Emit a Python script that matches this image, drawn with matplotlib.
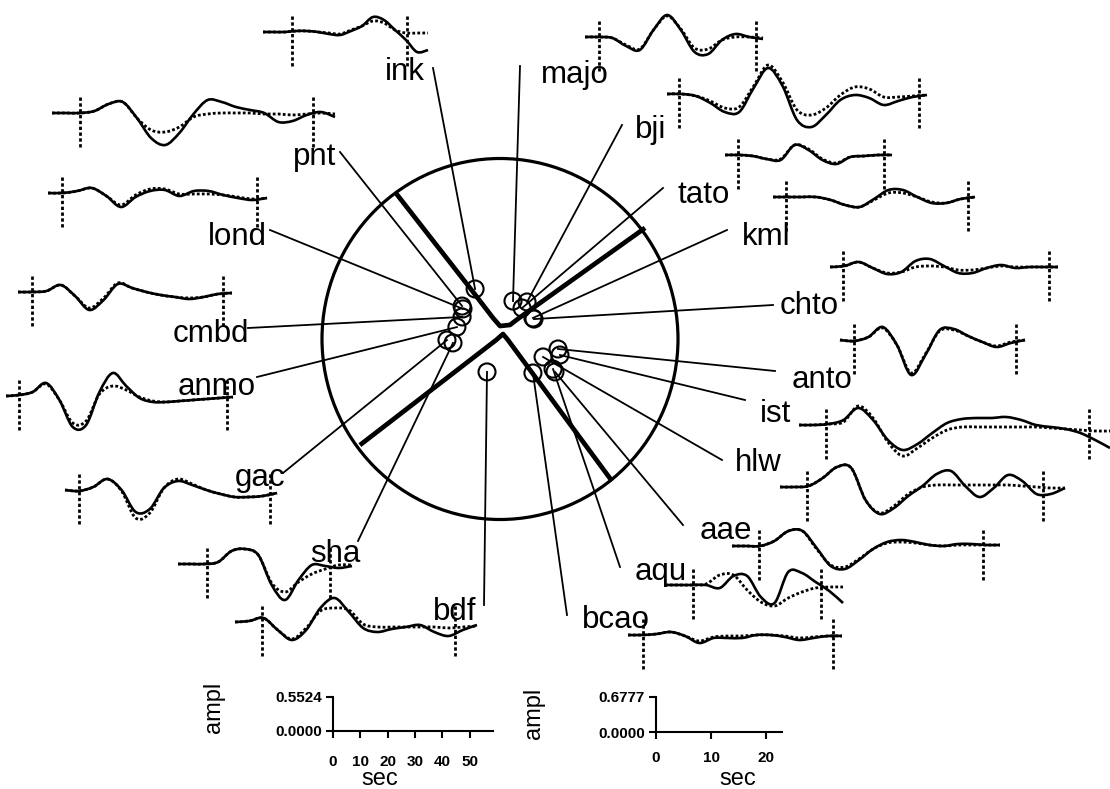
import matplotlib
matplotlib.use("Agg")
import matplotlib.pyplot as plt
from matplotlib.patches import Ellipse, Circle, PathPatch
from matplotlib.path import Path
from matplotlib import font_manager
import numpy as np

# ---------------- data ----------------
STATIONS = ["ink", "pnt", "lond", "cmbd", "anmo", "gac", "sha", "bdf", "majo", "bji",
            "tato", "kml", "chto", "anto", "ist", "hlw", "aae", "aqu", "bcao"]

# station positions on the focal sphere projection (units of ball radius, +y up)
STA_PX = [-0.140, -0.213, -0.208, -0.213, -0.242, -0.298, -0.264, -0.073, 0.073, 0.152,
          0.124, 0.185, 0.191, 0.326, 0.337, 0.242, 0.309, 0.298, 0.185]
STA_PY = [0.281, 0.185, 0.169, 0.124, 0.067, -0.006, -0.022, -0.185, 0.213, 0.208,
          0.174, 0.118, 0.112, -0.056, -0.090, -0.101, -0.185, -0.169, -0.191]

# nodal plane traces (units of ball radius, +y up)
NODAL1_X = [-0.590, -0.169, -0.039, 0.000, 0.056, 0.107, 0.815]
NODAL1_Y = [0.826, 0.287, 0.118, 0.073, 0.079, 0.118, 0.624]
NODAL2_X = [-0.787, -0.022, 0.017, 0.045, 0.629]
NODAL2_Y = [-0.596, -0.006, 0.028, -0.006, -0.798]

# observed (solid) and synthetic (dotted) waveform amplitudes, evenly sampled
OBS_INK = [0, 0, 0, 1, 1, 0, -2, -3, 1, 6, 15, 12, 2, -8, -20, -18]
SYN_INK = [0, 0, 0, 1, 1, 0, -1, -2, 2, 6, 11, 9, 2, -1, -1, -1]
OBS_PNT = [0, 0, 0, 2, 9, 11, -5, -25, -32, -20, -1, 13, 11, 6, 3, 0, -9, -8, -2, 1, -4]
SYN_PNT = [0, 0, 0, 2, 9, 11, -5, -17, -19, -14, -4, -1, 0, 0, 0, -1, -1, -2, -1, 0, -1]
OBS_LOND = [0, 0, 2, 5, -3, -14, -4, 2, 3, -3, 2, 2, -2, -5, -7, -5]
SYN_LOND = [0, 0, 2, 5, -3, -12, -2, 4, 4, -1, -1, -1, -2, -4, -6, -5]
OBS_CMBD = [0, 0, 1, 7, -4, -18, -8, 8, 4, 0, -3, -5, -7, -5, -2, -1]
SYN_CMBD = [0, 0, 1, 7, -4, -16, -6, 9, 4, 0, -3, -5, -6, -5, -2, -1]
OBS_ANMO = [0, 1, 4, 13, -4, -31, -29, 4, 23, 10, -2, -6, -6, -5, -4, -3, -2, -1]
SYN_ANMO = [0, 1, 4, 12, -4, -27, -25, 2, 10, 6, -1, -5, -6, -5, -4, -3, -2, -1]
OBS_GAC = [0, -1, 3, 11, 0, -22, -19, 2, 9, 5, 0, -4, -7, -7, -6, -3]
SYN_GAC = [0, -1, 3, 11, -1, -28, -23, 2, 11, 6, 0, -4, -7, -7, -6, -3]
OBS_SHA = [0, 0, 0, 2, 13, 15, 9, -21, -36, -16, -1, -2, -4, -2]
SYN_SHA = [0, 0, 0, 2, 13, 15, 9, -19, -28, -18, -10, -5, -1, -1]
OBS_BDF = [0, 1, 4, -8, -18, -8, 14, 24, 10, -6, -10, -7, -5, -3, -10, -14, -8, -3]
SYN_BDF = [0, 1, 4, -8, -17, -6, 11, 14, 12, -2, -5, -5, -5, -5, -5, -6, -5, -4]
OBS_MAJO = [0, 0, -1, -9, -13, 7, 22, 7, -15, -17, -3, 3, 0, -2]
SYN_MAJO = [0, 0, -1, -8, -12, 7, 21, 8, -11, -12, -3, 0, 0, -1]
OBS_BJI = [0, 0, -2, -9, -18, -18, 6, 26, 8, -26, -33, -21, -6, -1, -4, -11, -7, -3, -1]
SYN_BJI = [0, 0, -2, -7, -14, -13, 8, 29, 12, -16, -21, -14, -1, 7, 5, -3, -3, -2, -1]
OBS_TATO = [0, 0, -1, -4, -5, 10, 5, -5, -9, -2, -1, 0, 0]
SYN_TATO = [0, 0, -1, -4, -4, 10, 6, -4, -8, -2, -1, 0, 0]
OBS_KML = [0, 0, 0, 0, -3, -8, -10, -2, 7, 7, 0, -6, -6, -2, 0]
SYN_KML = [0, 0, 0, 0, -3, -8, -10, -3, 4, 4, 0, -5, -6, -2, 0]
OBS_CHTO = [0, 1, 5, -1, -7, -5, 6, 8, 1, -6, -6, -1, 2, -1, 0, 0, 0]
SYN_CHTO = [0, 1, 5, -1, -6, -5, 0, 1, 0, -3, -3, -1, 1, 0, 0, 0, 0]
OBS_ANTO = [0, -1, 3, 13, -5, -35, -15, 10, 11, 4, -2, -7, -3, 0]
SYN_ANTO = [0, -1, 3, 12, -5, -33, -14, 9, 10, 4, -2, -6, -2, 0]
OBS_IST = [0, 0, 1, 5, 17, 5, -15, -25, -19, -8, 2, 6, 7, 7, 8, 5, 0, -2, -4, -8, -15, -23]
SYN_IST = [0, 0, 1, 3, 19, 7, -17, -31, -23, -13, -5, -2, -2, -2, -2, -2, -2, -3, -4, -5, -6, -6]
OBS_HLW = [0, 0, 1, 9, 20, 19, -13, -27, -21, -9, 1, 13, 16, 1, -10, -1, 12, 6, -7, -7, -1]
SYN_HLW = [0, 0, 1, 9, 20, 19, -13, -26, -19, -7, 0, 2, 2, 2, 2, 2, 2, 1, 0, -1, -1]
OBS_AAE = [0, 0, 0, 5, 15, 15, -2, -20, -23, -14, -3, 4, 6, 4, 1, 0, 2, 2, 1, 1]
SYN_AAE = [0, 0, 0, 5, 15, 15, -3, -19, -21, -13, -3, 3, 4, 3, 1, 0, 1, 1, 1, 1]
OBS_AQU = [0, 0, 0, 0, -3, 9, 9, -12, -18, 13, 12, 3, -6, -18]
SYN_AQU = [0, 0, 0, 1, 10, 10, -5, -17, -21, -13, -7, -3, -2, -2]
OBS_BCAO = [0, 0, 1, 3, -1, -8, -3, -3, -3, 0, 0, -2, -5, -3, -1, -1]
SYN_BCAO = [0, 0, 1, 3, -1, -6, -2, -1, -1, 0, 0, -1, -3, -2, -1, -1]

OBS = [OBS_INK, OBS_PNT, OBS_LOND, OBS_CMBD, OBS_ANMO, OBS_GAC, OBS_SHA, OBS_BDF, OBS_MAJO,
       OBS_BJI, OBS_TATO, OBS_KML, OBS_CHTO, OBS_ANTO, OBS_IST, OBS_HLW, OBS_AAE, OBS_AQU, OBS_BCAO]
SYN = [SYN_INK, SYN_PNT, SYN_LOND, SYN_CMBD, SYN_ANMO, SYN_GAC, SYN_SHA, SYN_BDF, SYN_MAJO,
       SYN_BJI, SYN_TATO, SYN_KML, SYN_CHTO, SYN_ANTO, SYN_IST, SYN_HLW, SYN_AAE, SYN_AQU, SYN_BCAO]

# scale bars
SCALE1_AMP = 0.5524
SCALE1_TICKS = [0, 10, 20, 30, 40, 50]
SCALE2_AMP = 0.6777
SCALE2_TICKS = [0, 10, 20]

# ---------------- layout (pixels) ----------------
W, H = 1110, 789
BALL_CX, BALL_CY, BALL_R = 500, 339, 178
TRACE_X0 = [263, 52, 48, 18, 6, 65, 178, 235, 585, 667, 725, 773, 830, 840, 799, 780, 732, 665, 628]
TRACE_X1 = [428, 335, 267, 232, 233, 277, 352, 477, 763, 927, 892, 975, 1058, 1025, 1110, 1065, 1000, 843, 842]
TRACE_Y0 = [32, 113, 193, 292, 396, 490, 564, 622, 37, 94, 155, 197, 267, 340, 425, 487, 546, 585, 635]
TICK1 = [292, 80, 62, 32, 19, 79, 207, 262, 599, 679, 738, 786, 843, 854, 826, 807, 759, 693, 643]
TICK2 = [407, 313, 257, 223, 227, 270, 330, 455, 756, 919, 884, 968, 1049, 1016, 1089, 1043, 983, 821, 833]
LABEL_X = [385, 293, 208, 173, 178, 235, 310, 433, 541, 635, 677, 742, 780, 792, 760, 735, 700, 635, 582]
LABEL_Y = [80, 165, 245, 342, 395, 486, 562, 620, 83, 138, 203, 245, 314, 388, 422, 471, 539, 580, 628]
LEAD_X = [433, 340, 270, 248, 257, 283, 358, 484, 520, 622, 663, 727, 773, 775, 745, 722, 683, 620, 567]
LEAD_Y = [68, 152, 230, 328, 377, 473, 541, 605, 66, 125, 188, 230, 305, 371, 400, 460, 525, 567, 615]

names = {f.name for f in font_manager.fontManager.ttflist}
if "Liberation Sans Narrow" in names:
    LFAM, LSIZE, ASIZE = "Liberation Sans Narrow", 27, 20
else:
    LFAM, LSIZE, ASIZE = "Liberation Sans", 22.5, 17

fig = plt.figure(figsize=(W / 100, H / 100), dpi=100)
ax = fig.add_axes([0, 0, 1, 1])
ax.set_xlim(0, W)
ax.set_ylim(H, 0)
ax.axis("off")


def smooth_trace(xv, yv, **kw):
    """Draw a trace through the samples as a smooth Bezier path."""
    pts = np.column_stack([xv, yv])
    n = len(pts)
    verts = [tuple(pts[0])]
    codes = [Path.MOVETO]
    for i in range(n - 1):
        p0 = pts[max(i - 1, 0)]
        p1 = pts[i]
        p2 = pts[i + 1]
        p3 = pts[min(i + 2, n - 1)]
        c1 = p1 + (p2 - p0) / 6.0
        c2 = p2 - (p3 - p1) / 6.0
        verts += [tuple(c1), tuple(c2), tuple(p2)]
        codes += [Path.CURVE4] * 3
    ax.add_patch(PathPatch(Path(verts, codes), fill=False, **kw))


# beach ball
ax.add_patch(Ellipse((BALL_CX, BALL_CY), 2 * BALL_R, 2 * BALL_R + 5, fill=False, lw=2.3,
                     color="black", zorder=3))
for nx, ny in ((NODAL1_X, NODAL1_Y), (NODAL2_X, NODAL2_Y)):
    ax.plot(BALL_CX + np.array(nx) * BALL_R, BALL_CY - np.array(ny) * BALL_R,
            color="black", lw=3.4, solid_joinstyle="round", solid_capstyle="butt", zorder=4)

# stations, leader lines, labels
for i, name in enumerate(STATIONS):
    sx = BALL_CX + STA_PX[i] * BALL_R
    sy = BALL_CY - STA_PY[i] * BALL_R
    ax.plot([LEAD_X[i], sx], [LEAD_Y[i], sy], color="black", lw=1.3, zorder=5)
    ax.add_patch(Circle((sx, sy), 8.5, fill=False, lw=1.5, color="black", zorder=6))
    ax.text(LABEL_X[i], LABEL_Y[i], name, family=[LFAM, "DejaVu Sans"], fontsize=LSIZE,
            ha="left", va="baseline", color="black", zorder=7)

# waveforms
for i in range(len(STATIONS)):
    x0, x1, y0 = TRACE_X0[i], TRACE_X1[i], TRACE_Y0[i]
    obs = np.array(OBS[i], dtype=float)
    syn = np.array(SYN[i], dtype=float)
    xs = np.linspace(x0, x1, len(obs))
    xd = np.linspace(x0, x1, len(syn))
    smooth_trace(xd, y0 - syn, edgecolor="black", lw=2.0, linestyle=(0, (1.0, 0.8)), zorder=8)
    smooth_trace(xs, y0 - obs, edgecolor="black", lw=1.9, joinstyle="round", zorder=9)
    for t in (TICK1[i], TICK2[i]):
        ax.plot([t, t], [y0 - 16, y0 + 34], color="black", lw=2.0, ls=(0, (1.2, 0.9)), zorder=8)


# scale bars as real axes
def inset(x_left, x_right, y_top, y_bot):
    return fig.add_axes([x_left / W, (H - y_bot) / H, (x_right - x_left) / W, (y_bot - y_top) / H])


def style_scale(a, amp, ticks, xmax, lab_x, lab_y, amp_x, amp_y, pad):
    a.set_facecolor("none")
    a.set_xlim(0, xmax)
    a.set_ylim(0, amp)
    for s in ("top", "right"):
        a.spines[s].set_visible(False)
    for s in ("left", "bottom"):
        a.spines[s].set_linewidth(1.5)
    a.set_xticks(ticks)
    a.set_xticklabels([str(t) for t in ticks])
    a.set_yticks([0, amp])
    a.set_yticklabels(["0.0000", "%.4f" % amp])
    a.tick_params(axis="x", direction="out", length=5, width=1.5, pad=pad, labelsize=11)
    a.tick_params(axis="y", direction="out", length=5, width=1.5, pad=3, labelsize=11)
    for lab in a.get_xticklabels() + a.get_yticklabels():
        lab.set_fontweight("bold")
        lab.set_family("Liberation Sans")
    a.set_xlabel("sec", family=[LFAM, "DejaVu Sans"], fontsize=ASIZE)
    a.set_ylabel("ampl", family=[LFAM, "DejaVu Sans"], fontsize=ASIZE)
    a.xaxis.set_label_coords(lab_x, lab_y)
    a.yaxis.set_label_coords(amp_x, amp_y)


a1 = inset(333, 493, 697, 731)
style_scale(a1, SCALE1_AMP, SCALE1_TICKS, 58.5, 0.29, -1.09, -0.675, 0.7, 12)
a2 = inset(656, 782, 697, 732)
style_scale(a2, SCALE2_AMP, SCALE2_TICKS, 22.9, 0.65, -1.03, -0.88, 0.54, 9)

fig.savefig("out.png", dpi=100)
